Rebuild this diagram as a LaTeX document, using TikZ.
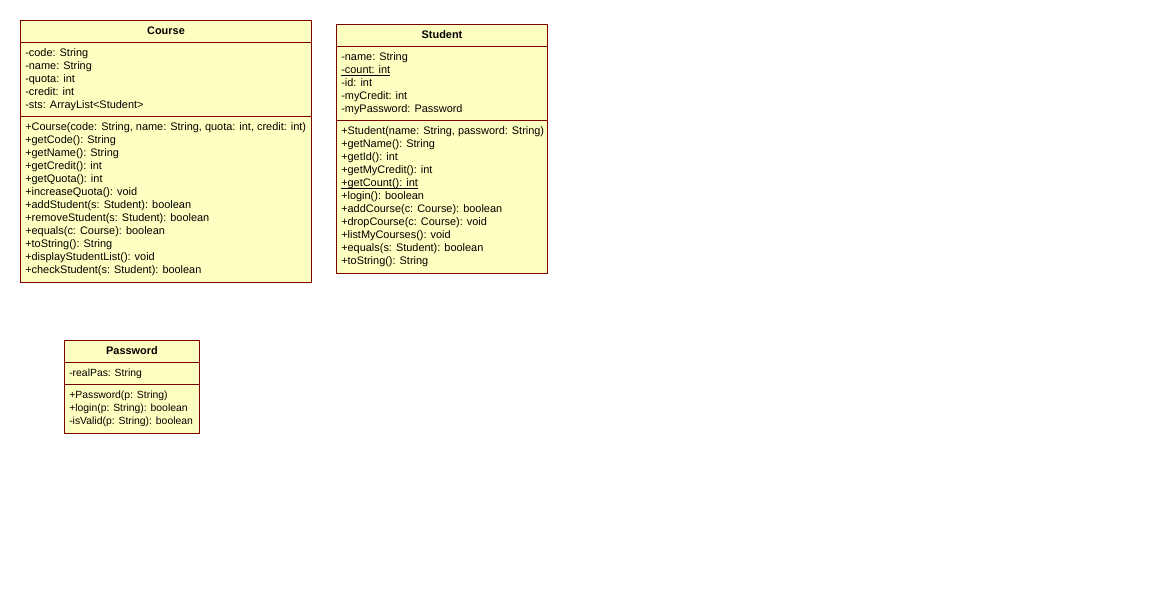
\documentclass[tikz,border=0pt]{standalone}
\usepackage{fontspec}
\setmainfont{Liberation Sans}
\definecolor{umlfill}{HTML}{FFFFC1}
\definecolor{umlline}{HTML}{800000}
\newcommand\umlul[1]{\setbox0\hbox{#1}\rlap{\raisebox{-1.3pt}{\rule{\wd0}{0.6pt}}}\box0}
\begin{document}
\begin{tikzpicture}[x=0.75pt,y=-0.75pt,
  classbox/.style={draw=umlline,fill=umlfill,line width=0.75pt},
  sepline/.style={draw=umlline,line width=0.75pt},
  member/.style={anchor=base west,inner sep=0pt,font=\fontsize{8.2pt}{9pt}\selectfont},
  smallmember/.style={member,font=\fontsize{7.8pt}{9pt}\selectfont},
  ctitle/.style={anchor=base,inner sep=0pt,font=\fontsize{8.2pt}{9pt}\selectfont\bfseries}]
\useasboundingbox[fill=white] (0,0) rectangle (1157,605);
% Course
\path[classbox] (20.5,20.5) rectangle (311.5,282.5);
\draw[sepline] (20.5,42.5) -- (311.5,42.5);
\draw[sepline] (20.5,116.5) -- (311.5,116.5);
\node[ctitle] (courseT) at (166,35) {Course};
\foreach \t [count=\i from 0] in {{-code: String},{-name: String},{-quota: int},{-credit: int},{-sts: ArrayList<Student>}}
  \node[member] (ca\i) at (25,57+13*\i) {\t};
\foreach \t [count=\i from 0] in {{+Course(code: String, name: String, quota: int, credit: int)},{+getCode(): String},{+getName(): String},{+getCredit(): int},{+getQuota(): int},{+increaseQuota(): void},{+addStudent(s: Student): boolean},{+removeStudent(s: Student): boolean},{+equals(c: Course): boolean},{+toString(): String},{+displayStudentList(): void},{+checkStudent(s: Student): boolean}}
  \node[member] (cm\i) at (25,131+13*\i) {\t};
% Student
\path[classbox] (336.5,24.5) rectangle (547.5,273.5);
\draw[sepline] (336.5,46.5) -- (547.5,46.5);
\draw[sepline] (336.5,120.5) -- (547.5,120.5);
\node[ctitle] (studentT) at (442,39) {Student};
\foreach \t [count=\i from 0] in {{-name: String},{\umlul{-count: int}},{-id: int},{-myCredit: int},{-myPassword: Password}}
  \node[member] (sa\i) at (341,61+13*\i) {\t};
\foreach \t [count=\i from 0] in {{+Student(name: String, password: String)},{+getName(): String},{+getId(): int},{+getMyCredit(): int},{\umlul{+getCount(): int}},{+login(): boolean},{+addCourse(c: Course): boolean},{+dropCourse(c: Course): void},{+listMyCourses(): void},{+equals(s: Student): boolean},{+toString(): String}}
  \node[member] (sm\i) at (341,135+13*\i) {\t};
% Password
\path[classbox] (64.5,340.5) rectangle (199.5,433.5);
\draw[sepline] (64.5,362.5) -- (199.5,362.5);
\draw[sepline] (64.5,384.5) -- (199.5,384.5);
\node[ctitle] (passwordT) at (132,355) {Password};
\node[smallmember] (pa0) at (69,377) {-realPas: String};
\foreach \t [count=\i from 0] in {{+Password(p: String)},{+login(p: String): boolean},{-isValid(p: String): boolean}}
  \node[smallmember] (pm\i) at (69,399+13*\i) {\t};
\end{tikzpicture}
\end{document}
